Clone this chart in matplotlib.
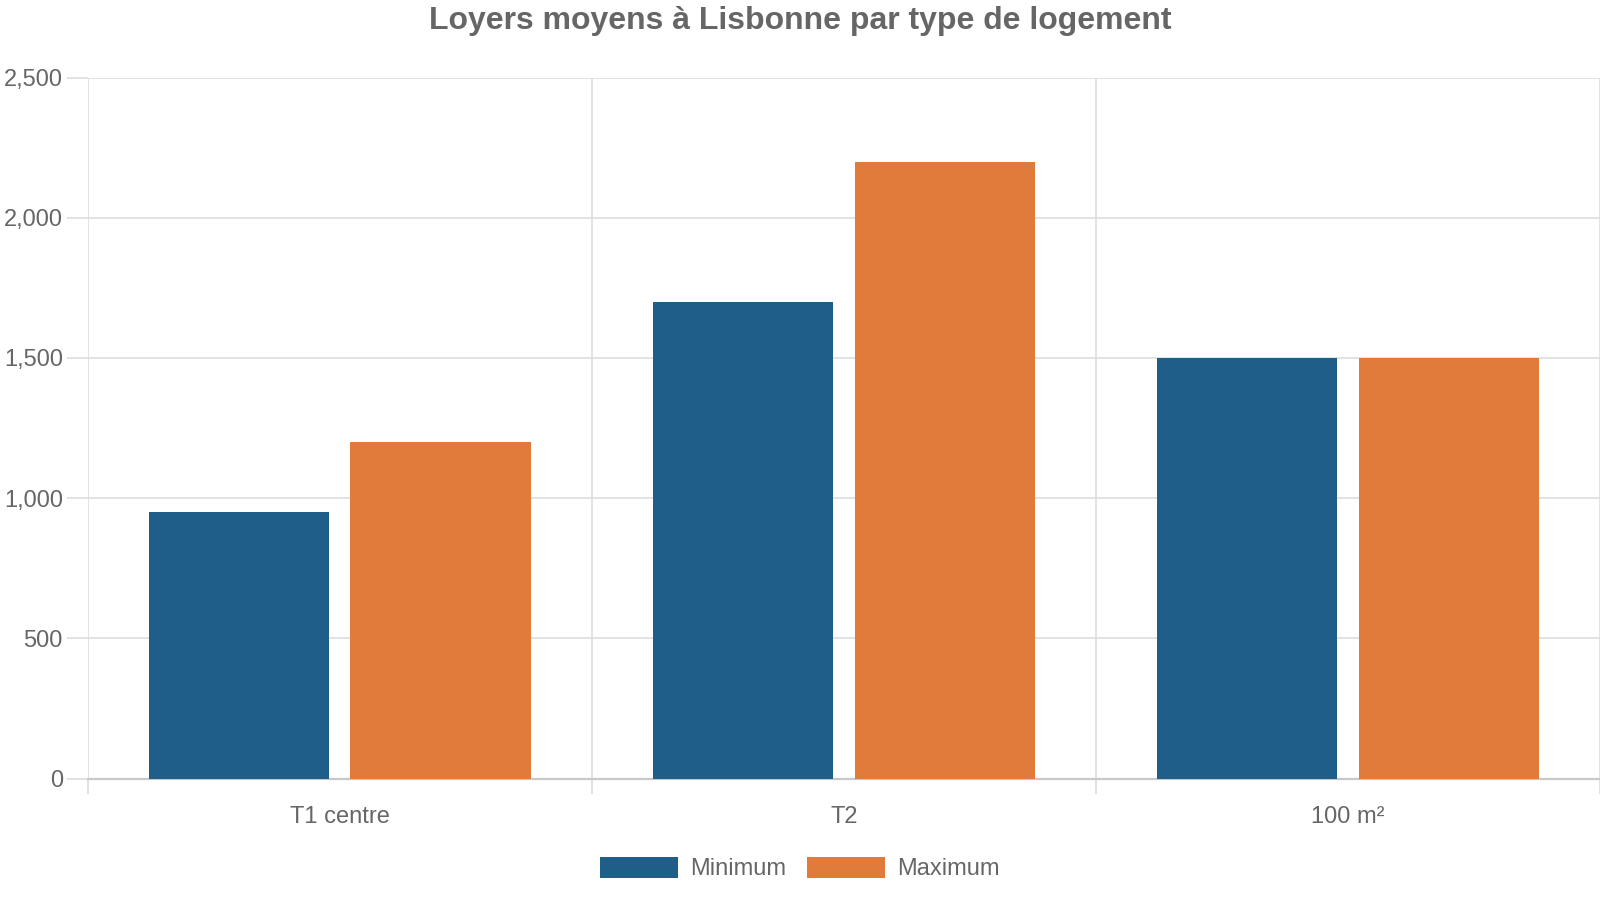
import numpy as np
import matplotlib.pyplot as plt
from matplotlib.ticker import FuncFormatter, FixedLocator

# Données
categories = ['T1 centre', 'T2', '100 m²']
loyer_min = [950, 1700, 1500]
loyer_max = [1200, 2200, 1500]
series_labels = ['Minimum', 'Maximum']

bleu = '#1f5e89'
orange = '#e07b3c'
gris_texte = '#666666'
gris_grille = '#dddddd'

plt.rcParams['font.family'] = ['Liberation Sans', 'DejaVu Sans']

fig = plt.figure(figsize=(16, 9), dpi=100)
ax = fig.add_axes([0.0549, 0.1349, 0.9451, 0.7789])

x = np.arange(len(categories))
largeur = 0.358
ax.bar(x - 0.2, loyer_min, width=largeur, color=bleu, label=series_labels[0], zorder=3)
ax.bar(x + 0.2, loyer_max, width=largeur, color=orange, label=series_labels[1], zorder=3)

ax.set_xlim(-0.5, len(categories) - 0.5)
ax.set_ylim(0, 2500)
ax.set_yticks(np.arange(0, 2501, 500))
ax.yaxis.set_major_formatter(FuncFormatter(lambda v, p: f'{int(v):,}'))

ax.set_xticks(x)
ax.set_xticklabels(categories)
ax.xaxis.set_minor_locator(FixedLocator(np.arange(-0.5, len(categories), 1.0)))

# grilles
ax.grid(axis='y', which='major', color=gris_grille, linewidth=1.2, zorder=0)
ax.grid(axis='x', which='minor', color=gris_grille, linewidth=1.2, zorder=0)
ax.grid(axis='x', which='major', visible=False)

ax.tick_params(axis='x', which='major', length=0, pad=20, labelsize=17, labelcolor=gris_texte)
ax.tick_params(axis='x', which='minor', length=11, width=1.2, color=gris_grille)
ax.tick_params(axis='y', which='major', length=15, width=1.2, color=gris_grille,
               pad=3, labelsize=17, labelcolor=gris_texte)

for s in ['top', 'right', 'left']:
    ax.spines[s].set_visible(False)
ax.spines['bottom'].set_color('#c8c8c8')
ax.spines['bottom'].set_linewidth(1.6)

fig.suptitle('Loyers moyens à Lisbonne par type de logement', x=0.5, y=0.977, va='center',
             fontsize=23, fontweight='bold', color=gris_texte)

leg = fig.legend(loc='center', bbox_to_anchor=(0.5, 0.035), ncol=2, frameon=False,
                 fontsize=17, handlelength=3.3, handleheight=1.0, handletextpad=0.5,
                 columnspacing=0.9)
for t in leg.get_texts():
    t.set_color(gris_texte)

fig.savefig('out.png', dpi=100)
